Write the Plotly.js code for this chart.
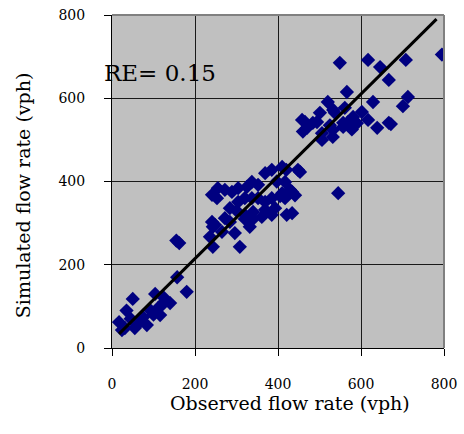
<!DOCTYPE html>
<html>
<head>
<meta charset="utf-8">
<script src="https://cdn.plot.ly/plotly-3.0.1.min.js"></script>
<style>html,body{margin:0;padding:0;background:#fff}#chart{width:464px;height:434px}</style>
</head>
<body>
<div id="chart"></div>
<script>
const observed = [17,24,31,35,45,50,55,63,70,75,84,92,100,104,110,116,120,123,125,140,157,180,155,162,
  236,241,241,243,243,248,253,255,265,272,272,284,284,289,296,300,304,304,308,320,320,320,325,332,337,337,340,340,352,352,361,369,369,369,385,385,385,393,397,405,410,410,417,417,420,421,429,434,441,434,448,453,545,
  458,460,465,470,484,494,501,506,506,520,525,532,532,533,537,549,557,557,561,566,569,578,581,590,602,617,617,629,639,646,667,667,672,701,708,713,795];
const simulated = [62,43,48,90,70,118,48,60,65,74,55,91,80,130,95,79,103,123,110,108,170,135,258,252,
  267,303,368,243,291,296,360,384,279,380,312,303,336,375,276,330,384,351,243,360,320,310,387,291,399,360,327,310,392,360,315,420,351,332,428,360,320,336,400,365,435,372,399,360,428,320,380,375,367,324,428,423,372,
  548,520,543,529,541,543,565,500,516,591,535,507,524,572,565,685,531,541,577,615,543,525,555,540,567,548,692,591,529,675,644,541,538,581,692,603,705];
const fitX = [17, 782];
const fitY = [34, 790];
const xTicks = [0,200,400,600,800];
const yTicks = [0,200,400,600,800];
const annotationText = 'RE= 0.15';
const xTitle = 'Observed flow rate (vph)';
const yTitle = 'Simulated flow rate (vph)';

const serif = 'DejaVu Serif, Liberation Serif, serif';
const data = [
  {x: observed, y: simulated, type: 'scatter', mode: 'markers',
   marker: {symbol: 'diamond', size: 11, color: '#000080', line: {width: 0}}, hoverinfo: 'skip'},
  {x: fitX, y: fitY, type: 'scatter', mode: 'lines', line: {color: '#000', width: 3}}
];
const layout = {
  width: 464, height: 434,
  margin: {l: 112, r: 20, t: 15, b: 86},
  paper_bgcolor: '#fff', plot_bgcolor: '#C0C0C0',
  showlegend: false,
  font: {family: serif, color: '#000', size: 15},
  xaxis: {range: [0, 800], tickvals: xTicks, ticktext: xTicks.map(String),
    showgrid: true, gridcolor: '#1a1a1a', gridwidth: 1, zeroline: false,
    showline: true, linecolor: '#000', linewidth: 1,
    ticks: 'outside', ticklen: 7, tickcolor: '#000', ticklabelstandoff: 16,
    tickfont: {family: serif, size: 14}},
  yaxis: {range: [0, 800], tickvals: yTicks, ticktext: yTicks.map(String),
    showgrid: true, gridcolor: '#1a1a1a', gridwidth: 1, zeroline: false,
    showline: true, linecolor: '#000', linewidth: 1,
    ticks: 'outside', ticklen: 7, tickcolor: '#000', ticklabelstandoff: 16,
    tickfont: {family: serif, size: 14}},
  shapes: [
    {type: 'line', xref: 'paper', yref: 'paper', x0: 0, x1: 1, y0: 1, y1: 1, line: {color: '#808080', width: 2}},
    {type: 'line', xref: 'paper', yref: 'paper', x0: 1, x1: 1, y0: 0, y1: 1, line: {color: '#808080', width: 2}}
  ],
  annotations: [
    {text: annotationText, xref: 'paper', yref: 'y', x: -0.03, y: 661, xanchor: 'left', yanchor: 'middle',
     showarrow: false, font: {family: serif, size: 23, color: '#000'}},
    {text: xTitle, xref: 'paper', yref: 'paper', x: 0.536, y: -0.165, xanchor: 'center', yanchor: 'middle',
     showarrow: false, font: {family: serif, size: 19, color: '#000'}},
    {text: yTitle, xref: 'paper', yref: 'paper', x: -0.268, y: 0.459, xanchor: 'center', yanchor: 'middle',
     textangle: -90, showarrow: false, font: {family: serif, size: 19, color: '#000'}}
  ]
};
Plotly.newPlot('chart', data, layout, {displayModeBar: false, staticPlot: true});
</script>
</body>
</html>
